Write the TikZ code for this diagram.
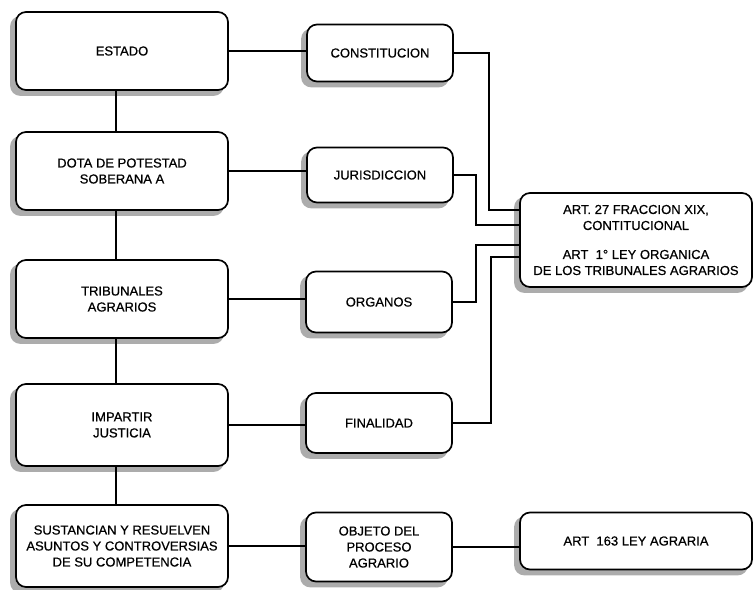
\documentclass[tikz,border=0pt]{standalone}
\usepackage{fontspec}
\setmainfont{Liberation Sans}
\newfontfamily\escaneo{Liberation Sans}[FakeBold=0.6]
\usepackage{tikz}
\usetikzlibrary{backgrounds}

\begin{document}
\begin{tikzpicture}[x=1pt,y=-1pt,
	caja/.style={draw,line width=1.7pt,rounded corners=10pt,fill=white,align=center,inner sep=2pt,
		font=\escaneo\fontsize{13}{16}\selectfont},
	izq/.style={caja,minimum width=212pt},
	med/.style={caja,minimum width=146pt},
	der/.style={caja,minimum width=232pt},
	sombra/.style={fill=gray!65,rounded corners=10pt},
	linea/.style={line width=1.7pt}]
	\useasboundingbox (0,0) rectangle (754,589);
	% columna izquierda
	\node[izq,minimum height=78pt] (estado) at (122,51) {ESTADO};
	\node[izq,minimum height=78pt] (dota) at (122,171) {DOTA DE POTESTAD\\SOBERANA A};
	\node[izq,minimum height=78pt] (tribunales) at (122,299) {TRIBUNALES\\AGRARIOS};
	\node[izq,minimum height=82pt] (impartir) at (122,425) {IMPARTIR\\JUSTICIA};
	\node[izq,minimum height=82pt] (sustancian) at (122,546) {SUSTANCIAN Y RESUELVEN\\ASUNTOS Y CONTROVERSIAS\\DE SU COMPETENCIA};
	% columna central
	\node[med,minimum height=57pt] (constitucion) at (380,53) {CONSTITUCION};
	\node[med,minimum height=55pt] (jurisdiccion) at (380,175) {JURISDICCION};
	\node[med,minimum height=61pt] (organos) at (379,302) {ORGANOS};
	\node[med,minimum height=60pt] (finalidad) at (379,423) {FINALIDAD};
	\node[med,minimum height=69pt] (objeto) at (379,547) {OBJETO DEL\\PROCESO\\AGRARIO};
	% columna derecha
	\node[der,minimum height=94pt] (art) at (636,240) {ART. 27 FRACCION XIX,\\CONTITUCIONAL\\[13pt]ART\ \ 1° LEY ORGANICA\\DE LOS TRIBUNALES AGRARIOS};
	\node[der,minimum height=57pt] (art163) at (636,541) {ART\ \ 163 LEY AGRARIA};
	% sombras
	\begin{scope}[on background layer]
		\foreach \n in {estado,dota,tribunales,impartir,sustancian,constitucion,jurisdiccion,organos,finalidad,objeto,art,art163}
			\fill[sombra] ([xshift=-5pt,yshift=-5pt]\n.north west) rectangle ([xshift=-5pt,yshift=-5pt]\n.south east);
	\end{scope}
	% conectores
	\coordinate (eje) at (116,0);
	\draw[linea] (estado.south -| eje) -- (dota.north -| eje);
	\draw[linea] (dota.south -| eje) -- (tribunales.north -| eje);
	\draw[linea] (tribunales.south -| eje) -- (impartir.north -| eje);
	\draw[linea] (impartir.south -| eje) -- (sustancian.north -| eje);
	\draw[linea] (estado.east) -- (estado.east -| constitucion.west);
	\draw[linea] (dota.east) -- (dota.east -| jurisdiccion.west);
	\draw[linea] (tribunales.east) -- (tribunales.east -| organos.west);
	\draw[linea] (impartir.east) -- (impartir.east -| finalidad.west);
	\draw[linea] (sustancian.east) -- (sustancian.east -| objeto.west);
	\draw[linea] (objeto.east) -- (objeto.east -| art163.west);
	\draw[linea] (constitucion.east) -- ++(35,0) |- ([yshift=30pt]art.west);
	\draw[linea] (jurisdiccion.east) -- ++(22,0) |- ([yshift=15pt]art.west);
	\draw[linea] (organos.east) -- ++(23,0) |- ([yshift=-5pt]art.west);
	\draw[linea] (finalidad.east) -- ++(38,0) |- ([yshift=-17pt]art.west);
\end{tikzpicture}
\end{document}
